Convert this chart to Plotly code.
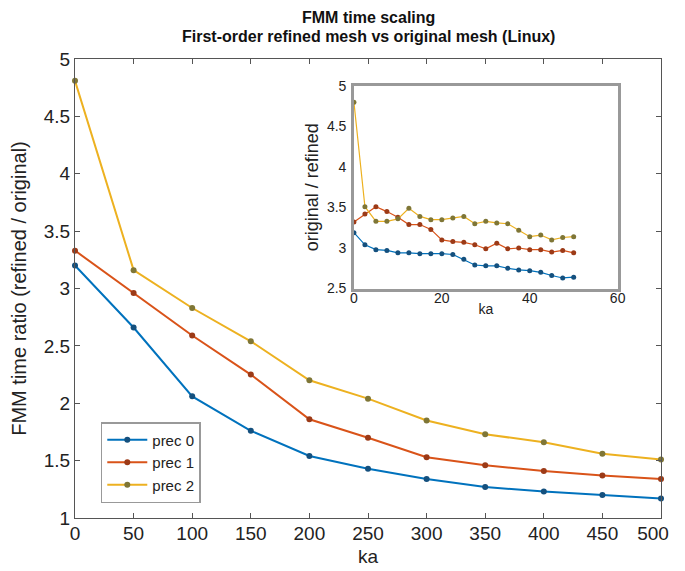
import plotly.graph_objects as go

# ---------------- data ----------------
ka_main = [0, 50, 100, 150, 200, 250, 300, 350, 400, 450, 500]
prec0_main = [3.20, 2.66, 2.06, 1.76, 1.54, 1.43, 1.34, 1.27, 1.23, 1.20, 1.17]
prec1_main = [3.33, 2.96, 2.59, 2.25, 1.86, 1.70, 1.53, 1.46, 1.41, 1.37, 1.34]
prec2_main = [4.81, 3.16, 2.83, 2.54, 2.20, 2.04, 1.85, 1.73, 1.66, 1.56, 1.51]

ka_inset = [0, 2.5, 5, 7.5, 10, 12.5, 15, 17.5, 20, 22.5, 25, 27.5, 30,
            32.5, 35, 37.5, 40, 42.5, 45, 47.5, 50]
prec0_inset = [3.19, 3.04, 2.98, 2.97, 2.94, 2.94, 2.93, 2.93, 2.93, 2.92, 2.86,
               2.79, 2.78, 2.78, 2.75, 2.73, 2.72, 2.70, 2.66, 2.63, 2.64]
prec1_inset = [3.32, 3.42, 3.51, 3.45, 3.38, 3.29, 3.29, 3.23, 3.10, 3.08, 3.07,
               3.04, 2.99, 3.06, 2.99, 3.00, 2.98, 2.98, 2.95, 2.97, 2.94]
prec2_inset = [4.80, 3.51, 3.33, 3.33, 3.36, 3.49, 3.39, 3.35, 3.35, 3.37, 3.39,
               3.30, 3.33, 3.31, 3.30, 3.22, 3.14, 3.16, 3.10, 3.13, 3.14]

names = ["prec 0", "prec 1", "prec 2"]
colors = ["#0072BD", "#D95319", "#EDB120"]
marker_colors = ["#14507e", "#9c3a17", "#7f7636"]

main_tickvals_y = [1, 1.5, 2, 2.5, 3, 3.5, 4, 4.5, 5]
main_tickvals_x = [0, 50, 100, 150, 200, 250, 300, 350, 400, 450, 500]
NB = "\u00a0"
main_ticktext_x = ["0", "50", "100", "150", "200", "250", "300",
                   "350", "400", "450", "500" + NB * 3]
inset_tickvals_y = [2.5, 3, 3.5, 4, 4.5, 5]
inset_tickvals_x = [0, 20, 40, 60]

FONT = "Liberation Sans, Arial, sans-serif"

fig = go.Figure()
for n, ys, c, mc in zip(names, [prec0_main, prec1_main, prec2_main], colors, marker_colors):
    fig.add_trace(go.Scatter(
        x=ka_main, y=ys, name=n, mode="lines+markers",
        line=dict(color=c, width=2),
        marker=dict(color=mc, size=6),
        xaxis="x", yaxis="y", cliponaxis=False,
    ))
for n, ys, c, mc in zip(names, [prec0_inset, prec1_inset, prec2_inset], colors, marker_colors):
    fig.add_trace(go.Scatter(
        x=ka_inset, y=ys, name=n, mode="lines+markers", showlegend=False,
        line=dict(color=c, width=1.2),
        marker=dict(color=mc, size=5),
        xaxis="x2", yaxis="y2", cliponaxis=False,
    ))

axis_common = dict(
    showgrid=False, zeroline=False, showline=True, mirror="ticks",
    ticks="inside", tickcolor="#555", linecolor="#555", linewidth=1.2,
    tickfont=dict(family=FONT, size=19, color="#222"),
    ticklabeloverflow="allow",
)

fig.update_layout(
    width=685, height=563,
    margin=dict(l=66, r=8, t=51, b=52),
    paper_bgcolor="white", plot_bgcolor="white",
    font=dict(family=FONT, color="#222"),
    xaxis=dict(
        **axis_common, domain=[0, 1], range=[0, 500],
        tickvals=main_tickvals_x, ticktext=main_ticktext_x,
        ticklen=5, ticklabelstandoff=-2,
        title=dict(text="ka", font=dict(family=FONT, size=19), standoff=6),
    ),
    yaxis=dict(
        **axis_common, domain=[0, 1], range=[1, 5],
        tickvals=main_tickvals_y, ticklen=5, ticklabelstandoff=0,
        title=dict(text="FMM time ratio (refined / original)",
                   font=dict(family=FONT, size=20), standoff=14),
    ),
    xaxis2=dict(
        showgrid=False, zeroline=False, showline=True, mirror=True,
        ticks="", linecolor="#999", linewidth=2.5,
        domain=[0.476, 0.926], range=[0, 60], anchor="y2",
        tickvals=inset_tickvals_x, ticklabelstandoff=-5,
        tickfont=dict(family=FONT, size=14, color="#222"),
        title=dict(text="ka", font=dict(family=FONT, size=14), standoff=0),
    ),
    yaxis2=dict(
        showgrid=False, zeroline=False, showline=True, mirror=True,
        ticks="", linecolor="#999", linewidth=2.5,
        domain=[0.5, 0.941], range=[2.5, 5], anchor="x2",
        tickvals=inset_tickvals_y, ticklabelstandoff=2,
        tickfont=dict(family=FONT, size=14, color="#222"),
        title=dict(text="original / refined", font=dict(family=FONT, size=18), standoff=4),
    ),
    legend=dict(
        x=0.044, y=0.209, xanchor="left", yanchor="top",
        bgcolor="white", bordercolor="#999", borderwidth=1.5,
        font=dict(family=FONT, size=15, color="#222"),
        itemwidth=40,
    ),
    annotations=[
        dict(text="<b>FMM time scaling</b>", xref="paper", yref="paper",
             x=0.5, y=1.090, xanchor="center", yanchor="middle", showarrow=False,
             font=dict(family=FONT, size=16, color="#111")),
        dict(text="<b>First-order refined mesh vs original mesh (Linux)</b>",
             xref="paper", yref="paper",
             x=0.5, y=1.050, xanchor="center", yanchor="middle", showarrow=False,
             font=dict(family=FONT, size=16, color="#111")),
    ],
)

fig.write_html("out.html")
